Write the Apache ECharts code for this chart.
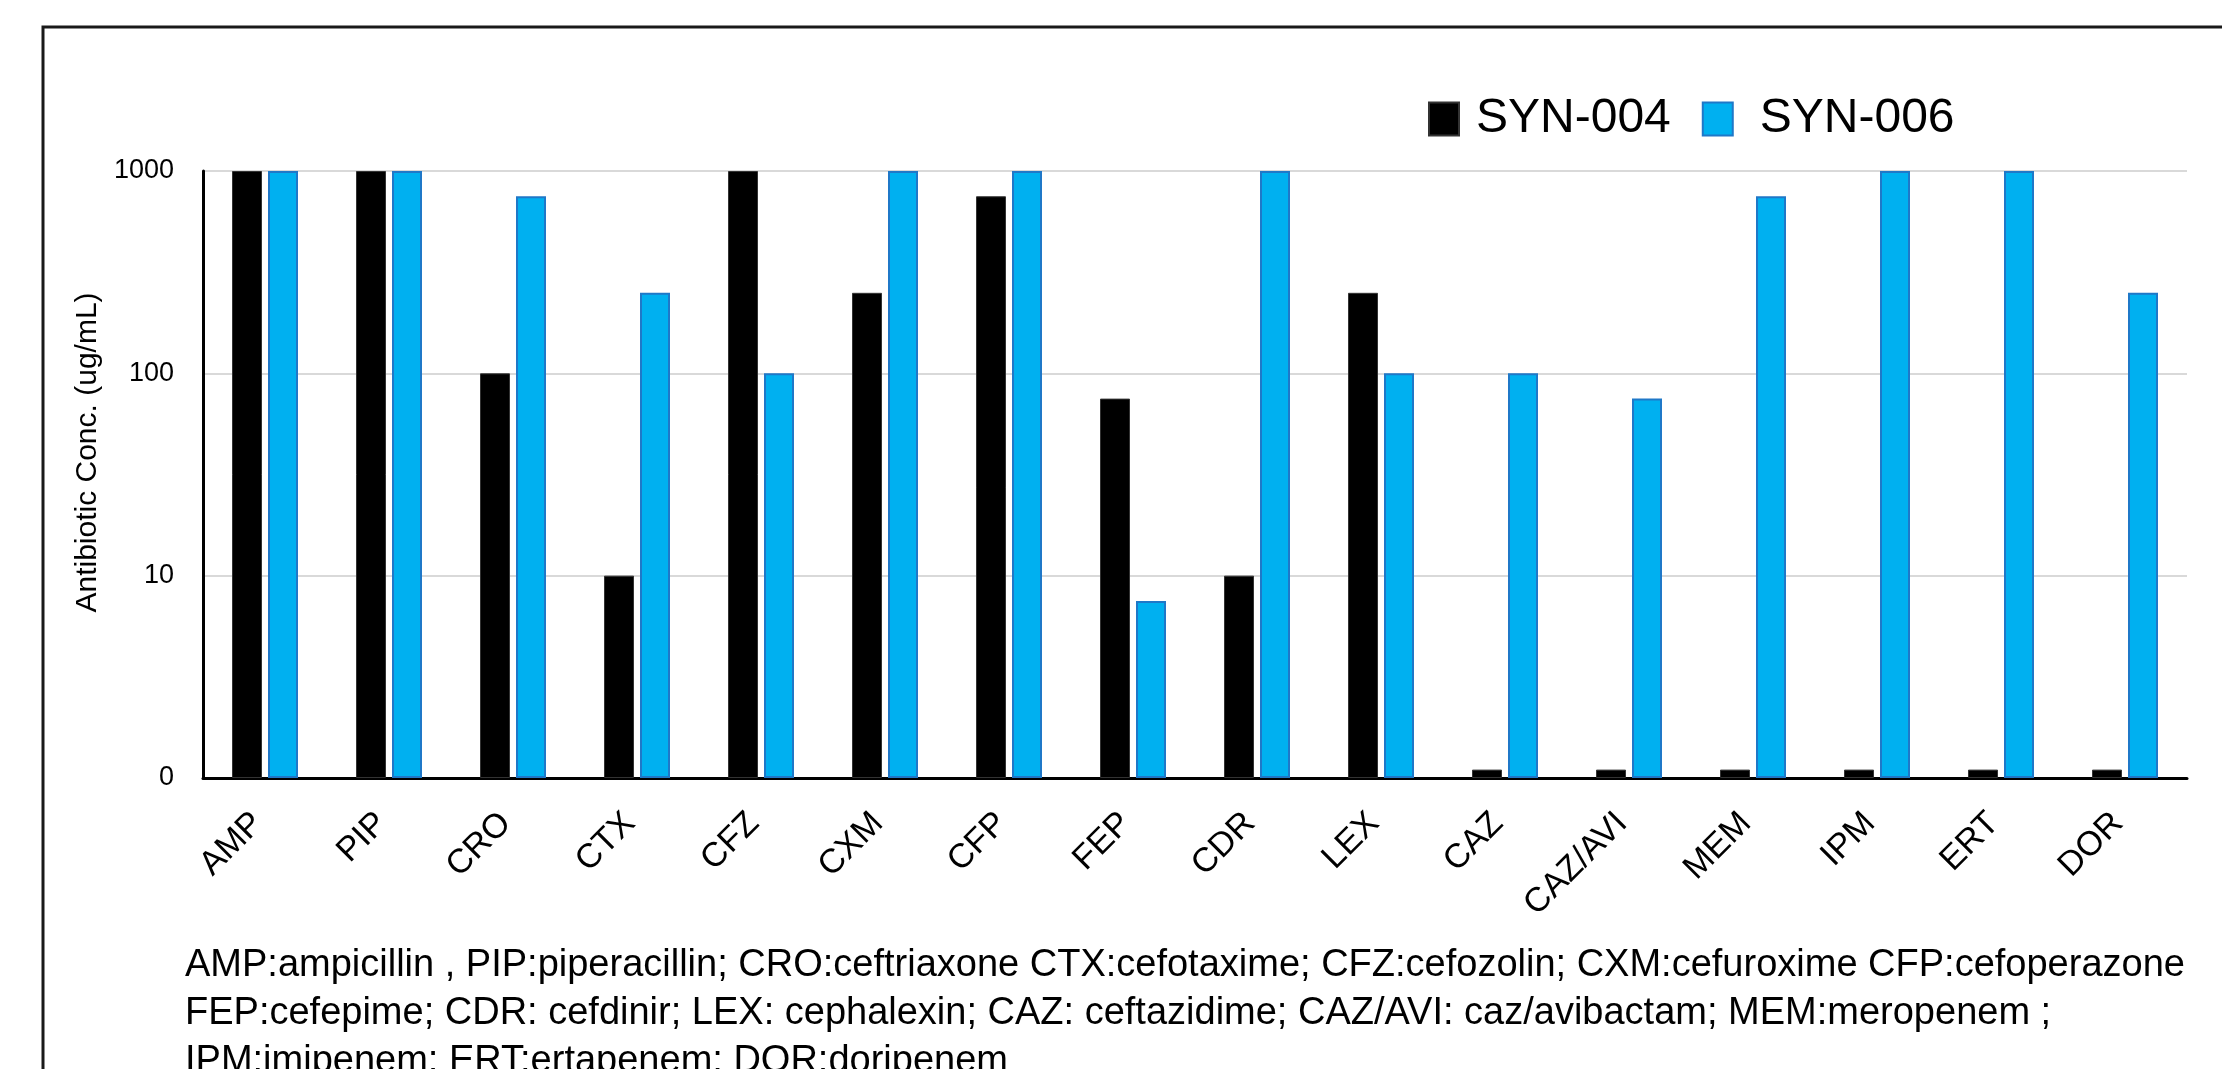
<!DOCTYPE html>
<html><head><meta charset="utf-8">
<script src="https://cdn.jsdelivr.net/npm/echarts@6/dist/echarts.min.js"></script>
<style>html,body{margin:0;padding:0;background:#fff}#c{width:2222px;height:1069px}</style>
</head><body><div id="c"></div>
<script>
const categories = ['AMP','PIP','CRO','CTX','CFZ','CXM','CFP','FEP','CDR','LEX','CAZ','CAZ/AVI','MEM','IPM','ERT','DOR'];
const syn004 = [1000,1000,100,10,1000,250,750,75,10,250,1.1,1.1,1.1,1.1,1.1,1.1];
const syn006 = [1000,1000,750,250,100,1000,1000,7.5,1000,100,100,75,750,1000,1000,250];
const seriesNames = ['SYN-004','SYN-006'];
const yTicks = [1,10,100,1000];
const yTickLabels = ['0','10','100','1000'];
const yAxisName = 'Antibiotic Conc. (ug/mL)';
const footnote = 'AMP:ampicillin , PIP:piperacillin; CRO:ceftriaxone CTX:cefotaxime; CFZ:cefozolin; CXM:cefuroxime CFP:cefoperazone\nFEP:cefepime; CDR: cefdinir; LEX: cephalexin; CAZ: ceftazidime; CAZ/AVI: caz/avibactam; MEM:meropenem ;\nIPM:imipenem; ERT:ertapenem; DOR:doripenem';

const FONT = "Arial, 'Liberation Sans', sans-serif";
const chart = echarts.init(document.getElementById('c'), null, {renderer:'canvas'});
chart.setOption({
  animation:false,
  textStyle:{fontFamily:FONT},
  graphic:[{type:'rect', shape:{x:43,y:27,width:2400,height:1300}, style:{fill:'none',stroke:'#1a1a1a',lineWidth:3}, z:-1}],
  title:{text:footnote, left:180, top:937, textStyle:{fontFamily:FONT, fontSize:38, fontWeight:'normal', color:'#000', lineHeight:48}},
  legend:{left:1423, top:90, itemWidth:30, itemHeight:33, itemGap:31, icon:'rect',
    textStyle:{fontFamily:FONT, fontSize:48, color:'#000', padding:[0,0,0,12]},
    data:[{name:seriesNames[0]}, {name:seriesNames[1], textStyle:{padding:[0,0,0,22]}}]},
  grid:{left:203, right:35, top:171, bottom:291},
  xAxis:{type:'category', data:categories,
    axisLine:{lineStyle:{color:'#000', width:3}}, axisTick:{show:false},
    axisLabel:{rotate:45, fontFamily:FONT, fontSize:34, color:'#000', margin:33, padding:[0,10,0,0], interval:0}},
  yAxis:{type:'log', logBase:10, min:1, max:1000,
    name:yAxisName, nameLocation:'middle', nameGap:97,
    nameTextStyle:{fontFamily:FONT, fontSize:30, color:'#000', padding:[0,0,0,44]},
    axisLine:{show:true, lineStyle:{color:'#000', width:3}}, axisTick:{show:false},
    splitLine:{lineStyle:{color:'#d9d9d9', width:2}},
    axisLabel:{fontFamily:FONT, fontSize:27, color:'#000', margin:29,
      formatter:function(v){const i=yTicks.indexOf(Math.round(v)); return i>=0?yTickLabels[i]:'';}}},
  series:[
    {name:seriesNames[0], type:'bar', data:syn004, barWidth:30, barGap:'20%',
      itemStyle:{color:'#000', borderColor:'#333', borderWidth:1}},
    {name:seriesNames[1], type:'bar', data:syn006, barWidth:30,
      itemStyle:{color:'#00b0f0', borderColor:'#1f78c8', borderWidth:2}}
  ]
});
</script></body></html>
